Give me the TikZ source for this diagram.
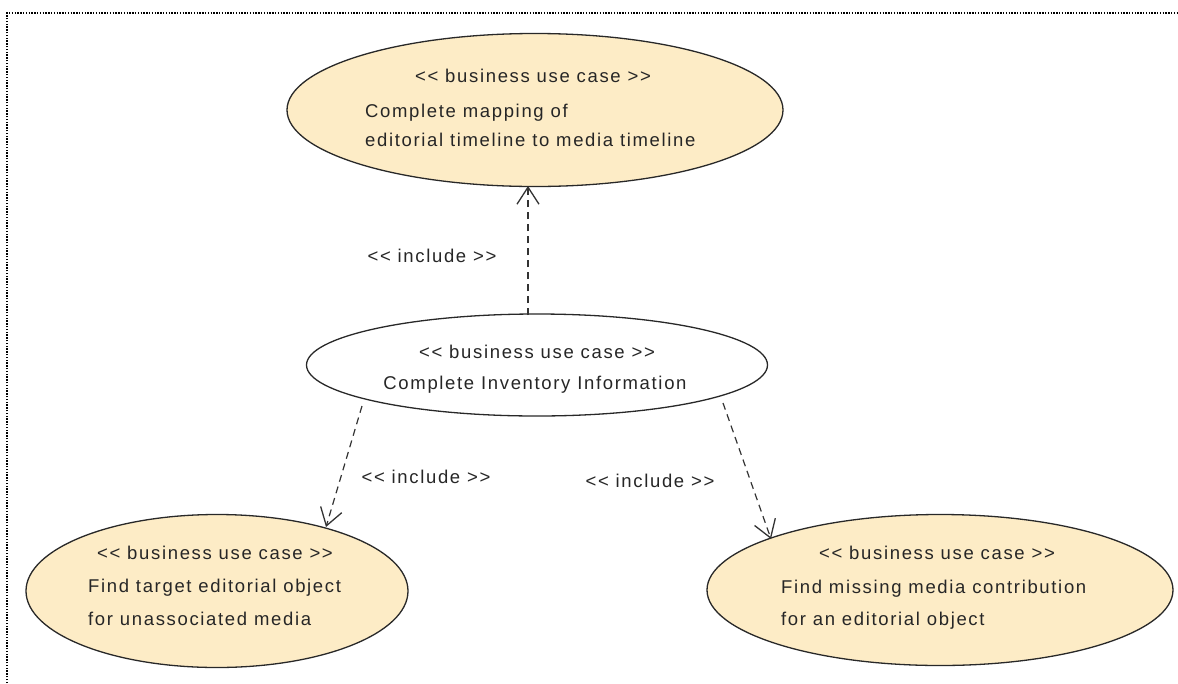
\documentclass[tikz,border=0pt]{standalone}
\usepackage{fontspec}
\setmainfont{Liberation Sans}[Ligatures=TeXOff, LetterSpace=9]
\usetikzlibrary{shapes.geometric,arrows.meta}
\definecolor{ucfill}{RGB}{253,236,198}
\definecolor{ucline}{RGB}{40,40,40}
\tikzset{
  usecase/.style={ellipse, draw=ucline, line width=1.3pt, inner sep=0pt},
  ucyellow/.style={usecase, fill=ucfill},
  ucwhite/.style={usecase, fill=white},
  uctext/.style={font=\fontsize{18.5}{18.5}\selectfont, text=black!85, inner sep=0pt, anchor=base},
  uctextl/.style={uctext, anchor=base west},
  includes/.style={draw=black!80, line width=1.2pt, dash pattern=on 7pt off 5pt,
    -{Straight Barb[length=17pt, width=22pt, line width=1.3pt]}},
  inclabel/.style={font=\fontsize{18.5}{18.5}\selectfont, text=black!85, inner sep=0pt}
}
\begin{document}
\begin{tikzpicture}[x=1pt, y=-1pt]
  \useasboundingbox (0,0) rectangle (1178,683);
  \fill[white] (0,0) rectangle (1178,683);
  % frame
  \draw[black, line width=1.4pt, dash pattern=on 1.4pt off 1.4pt] (7,683) -- (7,13) -- (1178,13);

  % use cases
  \node[ucyellow, minimum width=496pt, minimum height=153pt] (map) at (535,110) {};
  \node[ucwhite, minimum width=461pt, minimum height=102pt] (inv) at (537,365) {};
  \node[ucyellow, minimum width=382pt, minimum height=153pt] (tgt) at (217,591) {};
  \node[ucyellow, minimum width=466pt, minimum height=151pt] (miss) at (940,590) {};

  % texts
  \node[uctext] (mapS) at (533,82) {<< business use case >>};
  \node[uctextl] (mapA) at (365,117) {Complete mapping of};
  \node[uctextl] (mapB) at (365,146) {editorial timeline to media timeline};

  \node[uctext] (invS) at (537,358) {<< business use case >>};
  \node[uctext] (invA) at (535,389) {Complete Inventory Information};

  \node[uctext] (tgtS) at (215,559) {<< business use case >>};
  \node[uctextl] (tgtA) at (88,592) {Find target editorial object};
  \node[uctextl] (tgtB) at (88,625) {for unassociated media};

  \node[uctext] (missS) at (937,559) {<< business use case >>};
  \node[uctextl] (missA) at (781,593) {Find missing media contribution};
  \node[uctextl] (missB) at (781,625) {for an editorial object};

  % include relations
  \coordinate (s1) at (528,315);
  \coordinate (e1) at (528,186);
  \coordinate (s2) at (362,406);
  \coordinate (e2) at (326,527);
  \coordinate (s3) at (723,403);
  \coordinate (e3) at (771,539);
  \draw[includes] (s1) -- (e1);
  \draw[includes] (s2) -- (e2);
  \draw[includes] (s3) -- (e3);

  \node[inclabel] (l1) at (432,256) {<< include >>};
  \node[inclabel] (l2) at (426,477) {<< include >>};
  \node[inclabel] (l3) at (650,481) {<< include >>};
\end{tikzpicture}
\end{document}
